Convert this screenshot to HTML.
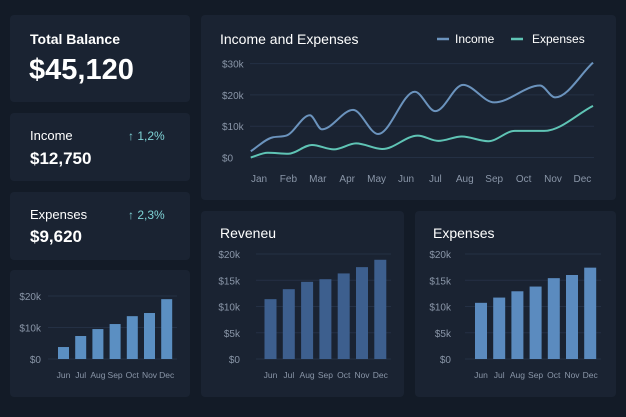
<!DOCTYPE html>
<html><head><meta charset="utf-8"><style>
body{margin:0;background:#131b27;width:626px;height:417px;overflow:hidden;font-family:"Liberation Sans",sans-serif}
svg{display:block}
text{font-family:"Liberation Sans",sans-serif}
</style></head><body>
<svg id="s" width="626" height="417" viewBox="0 0 626 417">
<rect width="626" height="417" fill="#131b27"/>
<g>
<rect x="10" y="15" width="180" height="87" rx="4" fill="#1a2332"/>
<text x="30" y="44" fill="#fff" font-size="14" font-weight="bold">Total Balance</text>
<text x="29" y="79" fill="#fff" font-size="29" font-weight="bold">$45,120</text>
</g>
<g>
<rect x="10" y="113" width="180" height="68" rx="4" fill="#1a2332"/>
<text x="30" y="140" fill="#fff" font-size="13">Income</text>
<text x="128" y="140" fill="#7fd3d6" font-size="12">↑ 1,2%</text>
<text x="30" y="164" fill="#fff" font-size="17" font-weight="bold">$12,750</text>
</g>
<g>
<rect x="10" y="192" width="180" height="68" rx="4" fill="#1a2332"/>
<text x="30" y="219" fill="#fff" font-size="13">Expenses</text>
<text x="128" y="219" fill="#7fd3d6" font-size="12">↑ 2,3%</text>
<text x="30" y="242" fill="#fff" font-size="17" font-weight="bold">$9,620</text>
</g>
<rect x="10" y="270" width="180" height="127" rx="4" fill="#1a2332"/>
<rect x="201" y="15" width="415" height="185" rx="4" fill="#1a2332"/>
<text x="220" y="44" fill="#fff" font-size="14">Income and Expenses</text>
<g>
<line x1="437" y1="39" x2="449" y2="39" stroke="#6b93bd" stroke-width="2.5"/>
<text x="455" y="43" fill="#fff" font-size="12">Income</text>
<line x1="511" y1="39" x2="523" y2="39" stroke="#5fc4b5" stroke-width="2.5"/>
<text x="532" y="43" fill="#fff" font-size="12">Expenses</text>
</g>
<rect x="201" y="211" width="203" height="186" rx="4" fill="#1a2332"/>
<text x="220" y="238" fill="#fff" font-size="14">Reveneu</text>
<rect x="415" y="211" width="201" height="186" rx="4" fill="#1a2332"/>
<text x="433" y="238" fill="#fff" font-size="14">Expenses</text>
</svg>
<script>
const months=["Jan","Feb","Mar","Apr","May","Jun","Jul","Aug","Sep","Oct","Nov","Dec"];
const lineTicks=[0,10,20,30];
const lineTickLabels=["$0","$10k","$20k","$30k"];
const incomeX=[-0.28,0.45,0.93,1.73,2.14,3.2,4.05,5.3,6.0,6.94,8.0,9.56,10.07,11.36];
const incomeVals=[2,6.4,7,13.5,9,15.2,7.5,21,14.8,23.2,17.6,23,19.2,30.3];
const expX=[-0.28,0.3,1.0,1.8,2.55,3.3,4.2,5.4,6.1,6.9,7.8,8.7,9.7,11.36];
const expVals=[0,1.5,1.2,4,2.6,4.5,2.7,7,5.3,6.7,5.2,8.5,8.5,16.5];
const barCats=["Jun","Jul","Aug","Sep","Oct","Nov","Dec"];
const miniVals=[3.8,7.3,9.5,11.1,13.6,14.6,19];
const miniTicks=[0,10,20];
const miniTickLabels=["$0","$10k","$20k"];
const revVals=[11.4,13.3,14.7,15.2,16.3,17.5,18.9];
const expBarVals=[10.7,11.7,12.9,13.8,15.4,16,17.4];
const kTicks=[0,5,10,15,20];
const kTickLabels=["$0","$5k","$10k","$15k","$20k"];
const NS="http://www.w3.org/2000/svg";
const svg=document.getElementById('s');
function mk(t,a,p){const e=document.createElementNS(NS,t);for(const k in a)e.setAttribute(k,a[k]);(p||svg).appendChild(e);return e;}
const lx=m=>259+m*29.4, ly=v=>157.5-v*3.13;
lineTicks.forEach((t,i)=>{
const g=mk('line',{x1:250,x2:594,y1:ly(t),y2:ly(t),stroke:'#243044','stroke-width':1});


const tx=mk('text',{x:222,y:ly(t)+4,fill:'#8a96a8','font-size':10});tx.textContent=lineTickLabels[i];


});
months.forEach((m,i)=>{
const tx=mk('text',{x:lx(i),y:182,fill:'#8a96a8','font-size':10,'text-anchor':'middle'});tx.textContent=m;


});
function smooth(xs,vs){
const X=xs.map(lx),Y=vs.map(ly),n=X.length;
const d=[],m=[];
for(let i=0;i<n-1;i++)d.push((Y[i+1]-Y[i])/(X[i+1]-X[i]));
m[0]=d[0];m[n-1]=d[n-2];
for(let i=1;i<n-1;i++){m[i]=(d[i-1]*d[i]<=0)?0:(d[i-1]+d[i])/2;}
for(let i=0;i<n-1;i++){if(d[i]===0){m[i]=0;m[i+1]=0;continue;}
const a=m[i]/d[i],b=m[i+1]/d[i],s=a*a+b*b;if(s>9){const t=3/Math.sqrt(s);m[i]=t*a*d[i];m[i+1]=t*b*d[i];}}
let p='M'+X[0]+','+Y[0];
for(let i=0;i<n-1;i++){const h=(X[i+1]-X[i])/3;
p+=`C${X[i]+h},${Y[i]+m[i]*h} ${X[i+1]-h},${Y[i+1]-m[i+1]*h} ${X[i+1]},${Y[i+1]}`;}
return p;}
const inc=mk('path',{d:smooth(incomeX,incomeVals),fill:'none',stroke:'#6b93bd','stroke-width':2});


const ex=mk('path',{d:smooth(expX,expVals),fill:'none',stroke:'#5fc4b5','stroke-width':2});


function bars(name,vals,ticks,labels,x0,step,gx1,gx2,labX,y0,yTop,maxV,color,bw){
const by=v=>y0-v*(y0-yTop)/maxV;
ticks.forEach((t,i)=>{
const g=mk('line',{x1:gx1,x2:gx2,y1:by(t),y2:by(t),stroke:'#243044','stroke-width':1});


const tx=mk('text',{x:labX,y:by(t)+4,fill:'#8a96a8','font-size':10,'text-anchor':'end'});tx.textContent=labels[i];


});
vals.forEach((v,i)=>{
const cx=x0+i*step;
const r=mk('rect',{x:cx-bw/2,y:by(v),width:bw,height:y0-by(v),fill:color});


const tx=mk('text',{x:cx,y:y0+19,fill:'#8a96a8','font-size':8.5,'text-anchor':'middle'});tx.textContent=barCats[i];


});}
bars('mini',miniVals,miniTicks,miniTickLabels,63.5,17.2,48,177,41,359,296,20,'#5b8fc2',11);
bars('revenue',revVals,kTicks,kTickLabels,270.5,18.3,256,391,240,359,254,20,'#3d5f8e',12);
bars('expenses',expBarVals,kTicks,kTickLabels,481,18.2,465,601,451,359,254,20,'#5b8bbf',12);
</script>
</body></html>
